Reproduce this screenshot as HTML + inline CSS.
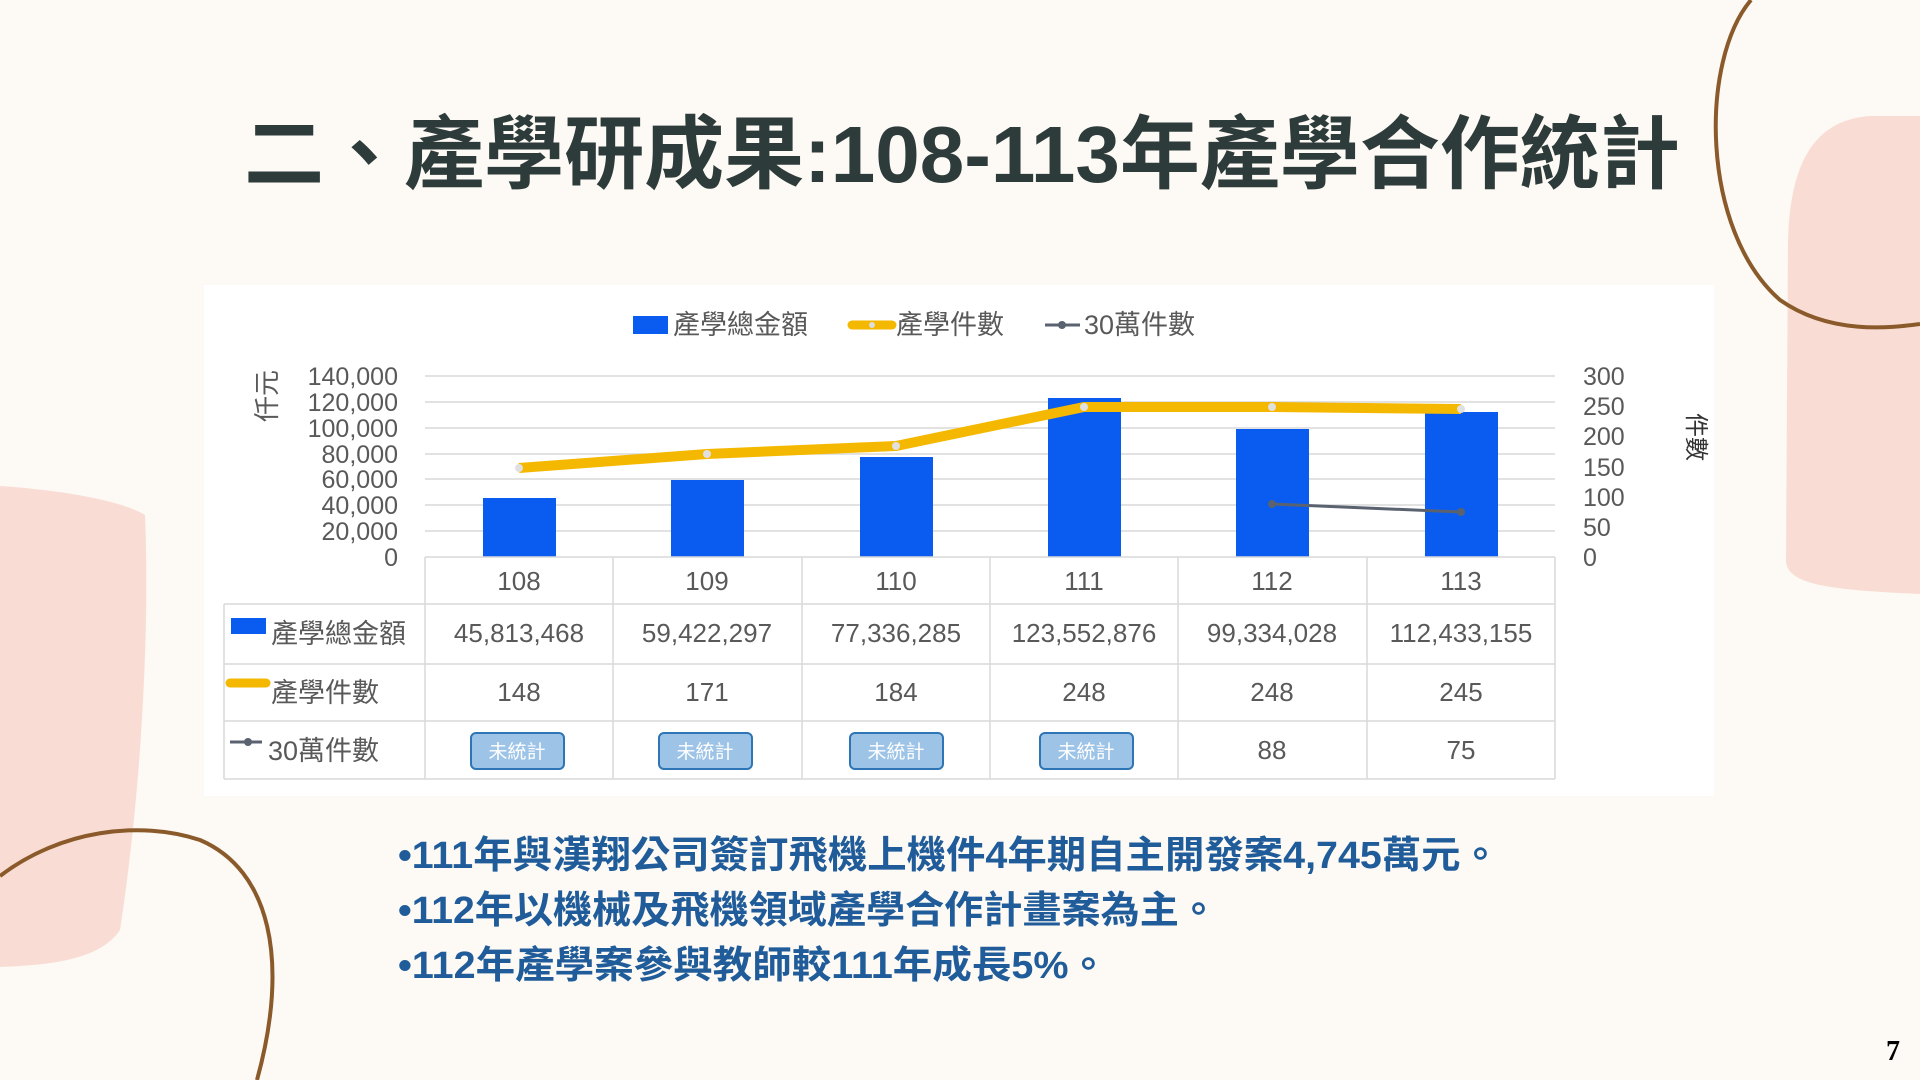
<!DOCTYPE html>
<html><head><meta charset="utf-8"><style>
html,body{margin:0;padding:0;background:#fdf9f4;}
svg{display:block;}
</style></head><body>
<svg width="1920" height="1080" viewBox="0 0 1920 1080" xmlns="http://www.w3.org/2000/svg" font-family="Liberation Sans, Noto Sans CJK TC, sans-serif">
<rect width="1920" height="1080" fill="#fdf9f4"/>
<path d="M1920,116 L1870,116 C1810,120 1790,170 1788,240 L1786,560 C1786,585 1830,590 1920,594 Z" fill="#f9ddd5"/>
<path d="M0,486 C60,490 120,500 145,515 C150,640 140,800 120,930 C100,960 50,965 0,967 Z" fill="#f9ddd5"/>
<path d="M1751,0 C1700,60 1700,230 1780,300 C1830,335 1890,328 1920,324" fill="none" stroke="#8a5a2b" stroke-width="4"/>
<path d="M0,876 C60,830 140,820 200,840 C270,870 290,960 257,1080" fill="none" stroke="#8a5a2b" stroke-width="4"/>
<text x="962" y="182" text-anchor="middle" font-size="80" font-weight="bold" fill="#2d3b3b">二、產學研成果:108-113年產學合作統計</text>
<rect x="204" y="285" width="1510" height="511" fill="#ffffff"/>
<rect x="633" y="316" width="35" height="18" fill="#0a5cf0"/>
<text x="673" y="334" font-size="27" fill="#595959">產學總金額</text>
<line x1="852" y1="325" x2="892" y2="325" stroke="#f5b800" stroke-width="9" stroke-linecap="round"/>
<circle cx="872" cy="325" r="3" fill="#ddd"/>
<text x="896" y="334" font-size="27" fill="#595959">產學件數</text>
<line x1="1045" y1="325" x2="1080" y2="325" stroke="#5a6270" stroke-width="3"/>
<circle cx="1062" cy="325" r="4" fill="#5a6270"/>
<text x="1084" y="334" font-size="27" fill="#595959">30萬件數</text>
<g stroke="#d9d9d9" stroke-width="1.5">
<line x1="425" y1="376" x2="1555" y2="376"/>
<line x1="425" y1="402" x2="1555" y2="402"/>
<line x1="425" y1="428" x2="1555" y2="428"/>
<line x1="425" y1="454" x2="1555" y2="454"/>
<line x1="425" y1="479" x2="1555" y2="479"/>
<line x1="425" y1="505" x2="1555" y2="505"/>
<line x1="425" y1="531" x2="1555" y2="531"/>
</g>
<g font-size="25" fill="#595959" text-anchor="end">
<text x="398" y="385">140,000</text><text x="398" y="411">120,000</text><text x="398" y="437">100,000</text>
<text x="398" y="463">80,000</text><text x="398" y="488">60,000</text><text x="398" y="514">40,000</text>
<text x="398" y="540">20,000</text><text x="398" y="566">0</text>
</g>
<g font-size="25" fill="#595959">
<text x="1583" y="385">300</text><text x="1583" y="415">250</text><text x="1583" y="445">200</text>
<text x="1583" y="476">150</text><text x="1583" y="506">100</text><text x="1583" y="536">50</text><text x="1583" y="566">0</text>
</g>
<text transform="translate(276,396) rotate(-90)" font-size="26" fill="#595959" text-anchor="middle">仟元</text>
<text transform="translate(1688,437) rotate(90)" font-size="24" fill="#333" text-anchor="middle">件數</text>
<g fill="#0a5cf0">
<rect x="483" y="498" width="73" height="59"/>
<rect x="671" y="480" width="73" height="77"/>
<rect x="860" y="457" width="73" height="100"/>
<rect x="1048" y="398" width="73" height="159"/>
<rect x="1236" y="429" width="73" height="128"/>
<rect x="1425" y="412" width="73" height="145"/>
</g>
<polyline points="519,468 707,454 896,446 1084,407 1272,407 1461,409" fill="none" stroke="#f5b800" stroke-width="10" stroke-linejoin="round"/>
<g fill="#e0e0e0"><circle cx="519" cy="468" r="4"/><circle cx="707" cy="454" r="4"/><circle cx="896" cy="446" r="4"/><circle cx="1084" cy="407" r="4"/><circle cx="1272" cy="407" r="4"/><circle cx="1461" cy="409" r="4"/></g>
<polyline points="1272,504 1461,512" fill="none" stroke="#5a6270" stroke-width="3"/>
<circle cx="1272" cy="504" r="4" fill="#5a6270"/><circle cx="1461" cy="512" r="4" fill="#5a6270"/>
<g stroke="#d9d9d9" stroke-width="1.5" fill="none">
<line x1="425" y1="557" x2="1555" y2="557"/>
<line x1="224" y1="604" x2="1555" y2="604"/>
<line x1="224" y1="664" x2="1555" y2="664"/>
<line x1="224" y1="721" x2="1555" y2="721"/>
<line x1="224" y1="779" x2="1555" y2="779"/>
<line x1="425" y1="557" x2="425" y2="779"/>
<line x1="613" y1="557" x2="613" y2="779"/>
<line x1="802" y1="557" x2="802" y2="779"/>
<line x1="990" y1="557" x2="990" y2="779"/>
<line x1="1178" y1="557" x2="1178" y2="779"/>
<line x1="1367" y1="557" x2="1367" y2="779"/>
<line x1="1555" y1="557" x2="1555" y2="779"/>
<line x1="224" y1="604" x2="224" y2="779"/>
</g>
<g font-size="26" fill="#595959" text-anchor="middle">
<text x="519" y="590">108</text><text x="707" y="590">109</text><text x="896" y="590">110</text>
<text x="1084" y="590">111</text><text x="1272" y="590">112</text><text x="1461" y="590">113</text>
<text x="519" y="642">45,813,468</text><text x="707" y="642">59,422,297</text><text x="896" y="642">77,336,285</text>
<text x="1084" y="642">123,552,876</text><text x="1272" y="642">99,334,028</text><text x="1461" y="642">112,433,155</text>
<text x="519" y="701">148</text><text x="707" y="701">171</text><text x="896" y="701">184</text>
<text x="1084" y="701">248</text><text x="1272" y="701">248</text><text x="1461" y="701">245</text>
<text x="1272" y="759">88</text><text x="1461" y="759">75</text>
</g>
<rect x="231" y="618" width="35" height="16" fill="#0a5cf0"/>
<text x="271" y="643" font-size="27" fill="#595959">產學總金額</text>
<line x1="230" y1="683" x2="266" y2="683" stroke="#f5b800" stroke-width="9" stroke-linecap="round"/>
<text x="271" y="702" font-size="27" fill="#595959">產學件數</text>
<line x1="230" y1="742" x2="262" y2="742" stroke="#5a6270" stroke-width="3"/>
<circle cx="248" cy="742" r="4" fill="#5a6270"/>
<text x="268" y="760" font-size="27" fill="#595959">30萬件數</text>
<g>
<rect x="471" y="733" width="93" height="36" rx="5" fill="#9dc3e6" stroke="#2e75b6" stroke-width="2"/>
<rect x="659" y="733" width="93" height="36" rx="5" fill="#9dc3e6" stroke="#2e75b6" stroke-width="2"/>
<rect x="850" y="733" width="93" height="36" rx="5" fill="#9dc3e6" stroke="#2e75b6" stroke-width="2"/>
<rect x="1040" y="733" width="93" height="36" rx="5" fill="#9dc3e6" stroke="#2e75b6" stroke-width="2"/>
</g>
<g font-size="19" fill="#ffffff" text-anchor="middle">
<text x="517" y="758">未統計</text><text x="705" y="758">未統計</text><text x="896" y="758">未統計</text><text x="1086" y="758">未統計</text>
</g>
<g font-size="38" font-weight="bold" fill="#1f5c99">
<text x="398" y="868" textLength="1102" lengthAdjust="spacingAndGlyphs">•111年與漢翔公司簽訂飛機上機件4年期自主開發案4,745萬元。</text>
<text x="398" y="923" textLength="820" lengthAdjust="spacingAndGlyphs">•112年以機械及飛機領域產學合作計畫案為主。</text>
<text x="398" y="978" textLength="710" lengthAdjust="spacingAndGlyphs">•112年產學案參與教師較111年成長5%。</text>
</g>
<text x="1893" y="1060" font-size="28" font-weight="bold" font-family="Liberation Serif, serif" fill="#000" text-anchor="middle">7</text>
</svg>
</body></html>
